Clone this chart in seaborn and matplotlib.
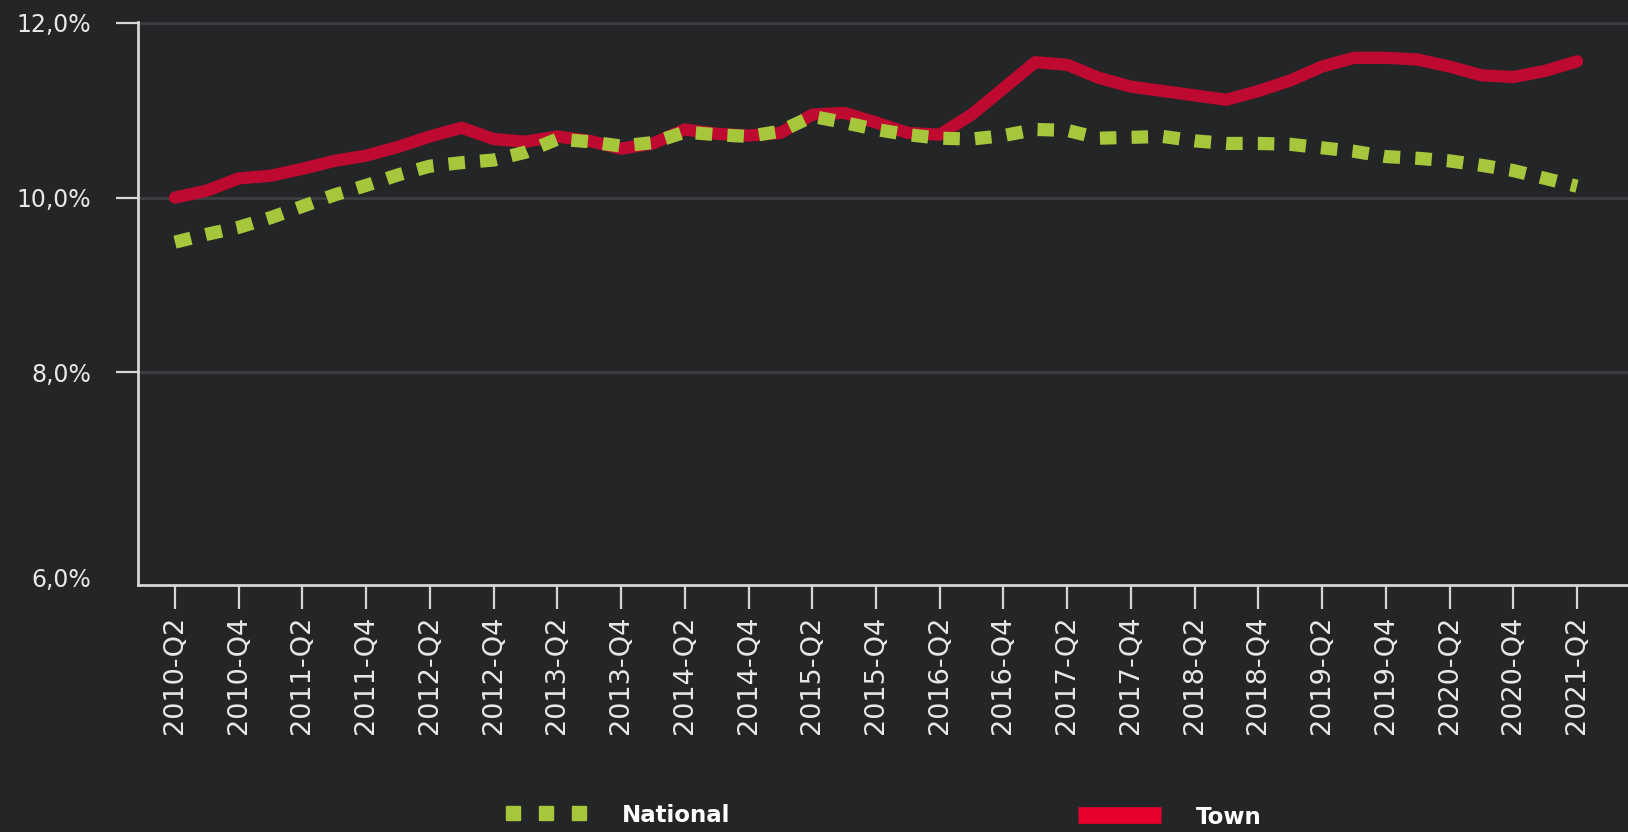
import numpy as np
import pandas as pd
import matplotlib
matplotlib.use("Agg")
import matplotlib.pyplot as plt
from matplotlib.lines import Line2D
import seaborn as sns

# quarters 2010-Q2 .. 2021-Q2
quarters = [f"{y}-Q{q}" for y in range(2010, 2022) for q in range(1, 5)]
quarters = quarters[1:quarters.index("2021-Q2") + 1]

town = [10.00, 10.08, 10.22, 10.25, 10.33, 10.42, 10.48, 10.58, 10.70, 10.80,
        10.67, 10.64, 10.70, 10.65, 10.56, 10.62, 10.78, 10.73, 10.71, 10.74,
        10.95, 10.97, 10.86, 10.74, 10.72, 10.95, 11.25, 11.55, 11.52, 11.37,
        11.27, 11.22, 11.17, 11.12, 11.22, 11.34, 11.50, 11.60, 11.60, 11.58,
        11.50, 11.40, 11.38, 11.45, 11.56]
national = [9.49, 9.58, 9.66, 9.77, 9.90, 10.03, 10.14, 10.26, 10.36, 10.40,
            10.43, 10.52, 10.67, 10.64, 10.59, 10.63, 10.75, 10.72, 10.70, 10.76,
            10.93, 10.86, 10.78, 10.72, 10.68, 10.67, 10.71, 10.78, 10.77, 10.68,
            10.69, 10.70, 10.65, 10.62, 10.62, 10.61, 10.57, 10.53, 10.47, 10.45,
            10.42, 10.37, 10.31, 10.22, 10.13]

ytick_vals = [5.657, 8, 10, 12]
ytick_labels = ["6,0%", "8,0%", "10,0%", "12,0%"]

df = pd.DataFrame({"idx": np.arange(len(quarters)), "quarter": quarters,
                   "Town": town, "National": national})

bg = "#242527"
red = "#BE0A30"
red_leg = "#E8002D"
green = "#A6C63B"
axis_col = "#d6d6d6"

sns.set_theme(style="dark", rc={"figure.facecolor": bg, "axes.facecolor": bg,
                                "savefig.facecolor": bg})
plt.rcParams["font.family"] = ["DejaVu Sans"]

fig = plt.figure(figsize=(16.28, 8.32), dpi=100)
ax = fig.add_axes([138 / 1628, 1 - 585 / 832, 1 - 138 / 1628, (585 - 22) / 832])

sns.lineplot(data=df, x="idx", y="Town", ax=ax, color=red, lw=8.8,
             solid_capstyle="round", solid_joinstyle="round", legend=False)
sns.lineplot(data=df, x="idx", y="National", ax=ax, color=green, lw=9.5,
             linestyle=(0, (1.25, 1.15)), dash_capstyle="butt",
             dash_joinstyle="round", legend=False)

ax.set_xlim(-1.16, 45.6)
ax.set_ylim(5.566, 12.01)
ax.set_xlabel("")
ax.set_ylabel("")

ax.set_xticks(df["idx"][::2])
ax.set_xticklabels(df["quarter"][::2], rotation=90, color="#e8e8e8", fontsize=19.5)
ax.set_yticks(ytick_vals)
ax.set_yticklabels(ytick_labels, color="#e8e8e8", fontsize=17)

ax.tick_params(axis="x", length=17, width=1.6, color=axis_col, pad=5, bottom=True)
ax.tick_params(axis="y", length=16, width=1.6, color=axis_col, pad=18, left=True)

ax.grid(axis="y", color="#3d3e41", lw=2)
ax.grid(axis="x", visible=False)
t0 = ax.yaxis.get_major_ticks()[0]
t0.gridline.set_visible(False)
t0.tick1line.set_visible(False)

for s in ["top", "right"]:
    ax.spines[s].set_visible(False)
for s in ["left", "bottom"]:
    ax.spines[s].set_visible(True)
    ax.spines[s].set_color(axis_col)
    ax.spines[s].set_linewidth(2)

# legend at the bottom
h_nat = Line2D([], [], color=green, marker="s", ms=9.5, linestyle="none")
h_town = Line2D([], [], color=red_leg, lw=12, solid_capstyle="butt")
fs = 16.5
leg1 = fig.legend(handles=[h_nat], labels=["National"], loc="center left",
                  bbox_to_anchor=(506 / 1628, 1 - 815 / 832), frameon=False,
                  numpoints=3, handlelength=3.5, handletextpad=1.55,
                  borderpad=0, borderaxespad=0,
                  prop={"size": fs, "weight": "bold"}, labelcolor="white")
leg2 = fig.legend(handles=[h_town], labels=["Town"], loc="center left",
                  bbox_to_anchor=(1078 / 1628, 1 - 817 / 832), frameon=False,
                  handlelength=3.6, handletextpad=1.55,
                  borderpad=0, borderaxespad=0,
                  prop={"size": fs, "weight": "bold"}, labelcolor="white")

fig.savefig("out.png", dpi=100, facecolor=bg)
